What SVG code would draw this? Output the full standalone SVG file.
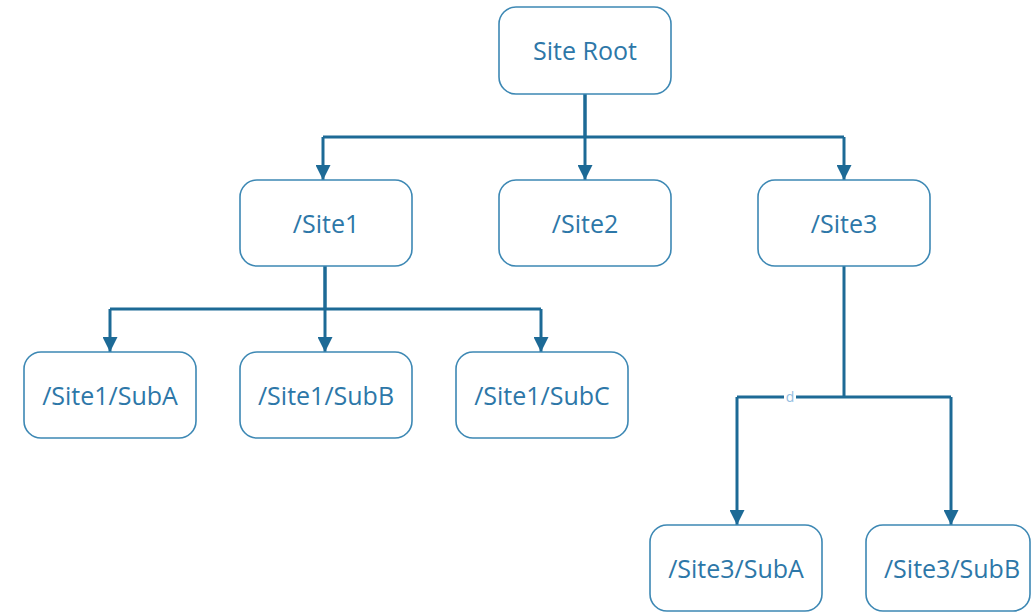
<svg xmlns="http://www.w3.org/2000/svg" width="1032" height="613" viewBox="0 0 1032 613">
  <defs>
    <marker id="arrow" viewBox="0 0 10 10" refX="10" refY="5" markerWidth="5" markerHeight="5" markerUnits="strokeWidth" orient="auto">
      <path d="M0,0 L10,5 L0,10 z" fill="#1d6a96"/>
    </marker>
    <style>
      .box { fill: #ffffff; stroke: #3d88b4; stroke-width: 1.6; }
      .lbl { font-family: "Open Sans", "Liberation Sans", sans-serif; font-size: 25px; fill: #2d77a8; text-anchor: middle; dominant-baseline: central; }
      .wire { fill: none; stroke: #1d6a96; stroke-width: 3; }
      .arr { marker-end: url(#arrow); }
      .tag { font-family: "Open Sans", "Liberation Sans", sans-serif; font-size: 14px; fill: #94bde0; text-anchor: middle; }
    </style>
  </defs>
  <rect width="1032" height="613" fill="#ffffff"/>

  <g id="connectors">
    <path class="wire" d="M585,94 V137 M323,137 H844"/>
    <path class="wire arr" d="M323,137 V180"/>
    <path class="wire arr" d="M585,94 V180"/>
    <path class="wire arr" d="M844,137 V180"/>

    <path class="wire" d="M325,266 V309 M110,309 H541"/>
    <path class="wire arr" d="M110,309 V352"/>
    <path class="wire arr" d="M325,266 V352"/>
    <path class="wire arr" d="M541,309 V352"/>

    <path class="wire" d="M844,266 V397 M737,397 H951"/>
    <path class="wire arr" d="M737,397 V525"/>
    <path class="wire arr" d="M951,397 V525"/>
    <rect x="784" y="390" width="12" height="13" fill="#ffffff"/>
    <text class="tag" x="790" y="402">d</text>
  </g>

  <g id="root">
    <rect class="box" x="499" y="7" width="172" height="87" rx="17"/>
    <text class="lbl" x="585" y="50">Site Root</text>
  </g>
  <g id="site1">
    <rect class="box" x="240" y="180" width="172" height="86" rx="17"/>
    <text class="lbl" x="326" y="223">/Site1</text>
  </g>
  <g id="site2">
    <rect class="box" x="499" y="180" width="172" height="86" rx="17"/>
    <text class="lbl" x="585" y="223">/Site2</text>
  </g>
  <g id="site3">
    <rect class="box" x="758" y="180" width="172" height="86" rx="17"/>
    <text class="lbl" x="844" y="223">/Site3</text>
  </g>
  <g id="site1-suba">
    <rect class="box" x="24" y="352" width="172" height="86" rx="17"/>
    <text class="lbl" x="110" y="395">/Site1/SubA</text>
  </g>
  <g id="site1-subb">
    <rect class="box" x="240" y="352" width="172" height="86" rx="17"/>
    <text class="lbl" x="326" y="395">/Site1/SubB</text>
  </g>
  <g id="site1-subc">
    <rect class="box" x="456" y="352" width="172" height="86" rx="17"/>
    <text class="lbl" x="542" y="395">/Site1/SubC</text>
  </g>
  <g id="site3-suba">
    <rect class="box" x="650" y="525" width="172" height="86" rx="17"/>
    <text class="lbl" x="736" y="568">/Site3/SubA</text>
  </g>
  <g id="site3-subb">
    <rect class="box" x="866" y="525" width="164" height="86" rx="17"/>
    <text class="lbl" x="952" y="568">/Site3/SubB</text>
  </g>
</svg>
